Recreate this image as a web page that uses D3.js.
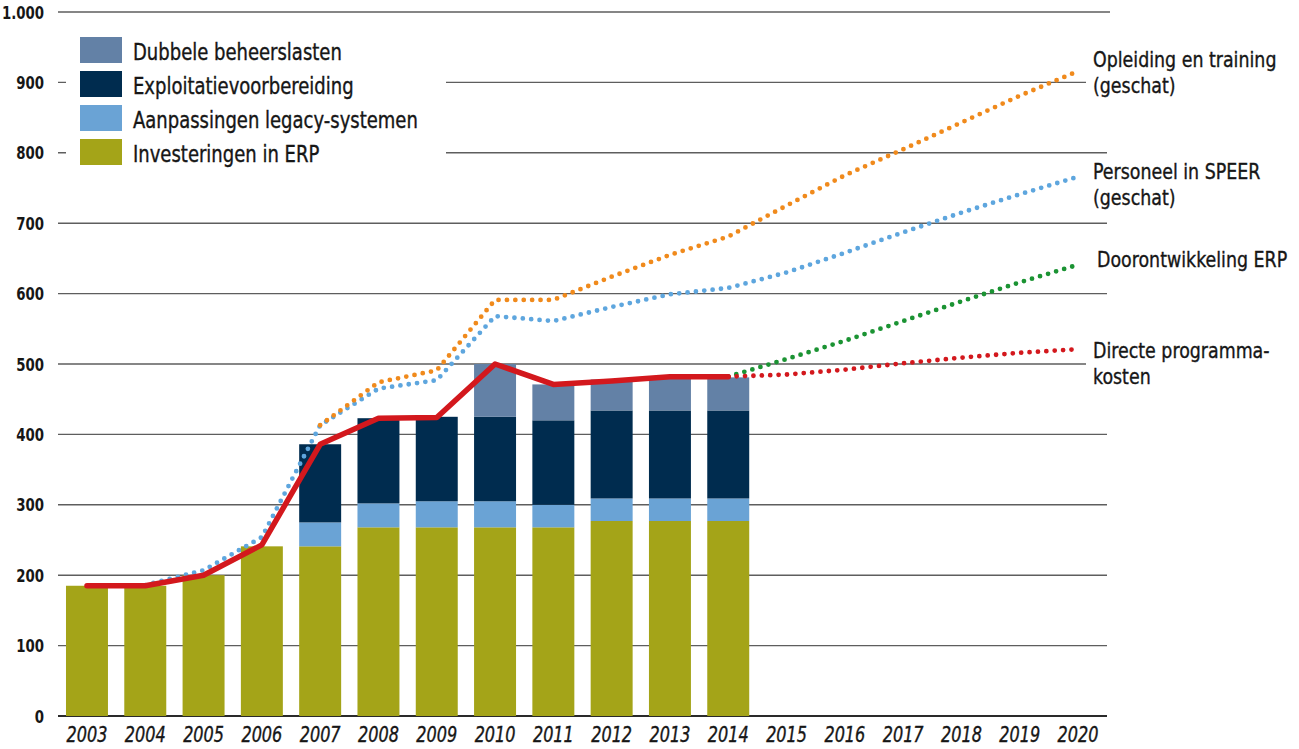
<!DOCTYPE html>
<html>
<head>
<meta charset="utf-8">
<script src="https://cdn.jsdelivr.net/npm/d3@7"></script>
<style>
  html, body { margin: 0; padding: 0; background: #fff; }
  svg { display: block; }
  text { font-family: "Liberation Sans Narrow", "Arial Narrow", "DejaVu Sans Condensed", "Roboto Condensed", sans-serif; fill: #161616; }
  text.heavy { stroke: #161616; stroke-width: 0.35px; }
</style>
</head>
<body>
<svg id="chart" width="1299" height="749"></svg>
<script>
// ---------------- DATA ----------------
const years = ["2003","2004","2005","2006","2007","2008","2009","2010","2011","2012","2013","2014","2015","2016","2017","2018","2019","2020"];
const barYears = ["2003","2004","2005","2006","2007","2008","2009","2010","2011","2012","2013","2014"];

const investeringenERP   = [185, 185, 200, 241, 241, 268, 268, 268, 268, 277, 277, 277];
const aanpassingenLegacy = [0, 0, 0, 0, 34, 34, 37, 37, 32, 32, 32, 32];
const exploitatie        = [0, 0, 0, 0, 111, 121, 120, 120, 120, 125, 125, 125];
const dubbeleBeheer      = [0, 0, 0, 0, 0, 0, 0, 75, 51, 44, 47, 47];

const directeYears   = ["2003","2004","2005","2006","2007","2008","2009","2010","2011","2012","2013","2014"];
const directeKosten  = [185, 185, 200, 243, 386, 423, 424, 500, 471, 476, 482, 482];
const directeProgYears = ["2014","2015","2016","2017","2018","2019","2020"];
const directeProg      = [482, 485, 492, 501, 509, 516, 521];
const doorontwYears  = ["2014","2015","2016","2017","2018","2019","2020"];
const doorontw       = [482, 507, 533, 561, 589, 616, 641];
const personeelYears = ["2004","2005","2006","2007","2008","2009","2010","2011","2012","2013","2014","2015","2016","2017","2018","2019","2020"];
const personeel      = [186, 207, 254, 413, 465, 477, 568, 561, 581, 599, 608, 630, 658, 687, 715, 741, 766];
const opleidingYears = ["2007","2008","2009","2010","2011","2012","2013","2014","2015","2016","2017","2018","2019","2020"];
const opleiding      = [413, 474, 491, 591, 591, 624, 655, 681, 725, 768, 805, 843, 881, 916];

const yTicks      = [0, 100, 200, 300, 400, 500, 600, 700, 800, 900, 1000];
const yTickLabels = ["0","100","200","300","400","500","600","700","800","900","1.000"];

const legendLabels = ["Dubbele beheerslasten","Exploitatievoorbereiding","Aanpassingen legacy-systemen","Investeringen in ERP"];
const lineLabels = [
  ["Opleiding en training", "(geschat)"],
  ["Personeel in SPEER", "(geschat)"],
  ["Doorontwikkeling ERP"],
  ["Directe programma-", "kosten"]
];

// ---------------- STYLE ----------------
const colors = {
  erp: "#a4a418", legacy: "#6aa3d5", exploit: "#002c4f", dubbel: "#6381a6",
  red: "#d3181d", orange: "#f08a1c", blue: "#5ea6de", green: "#1b9333"
};

const svg = d3.select("#chart");

const x = d3.scaleBand().domain(years).range([58, 1107]).paddingInner(0.28).paddingOuter(0.137);
const y = d3.scaleLinear().domain([0, 1000]).range([716, 12]);
const cx = d => x(d) + x.bandwidth() / 2;

// text helper: horizontally condensed text placed at (px, py)
function ctext(parent, px, py, sx, size, anchor) {
  return parent.append("text")
    .attr("transform", `translate(${px},${py}) scale(${sx},1)`)
    .attr("text-anchor", anchor || "start")
    .style("font-size", size + "px");
}

// gridlines
const gridEnd = v => (v === 1000 ? 1110 : (v === 900 || v === 500) ? 1086 : 1107);
svg.append("g").selectAll("line").data(yTicks).join("line")
  .attr("x1", 58).attr("x2", d => gridEnd(d))
  .attr("y1", d => y(d)).attr("y2", d => y(d))
  .attr("stroke", d => d === 0 ? "#2a2a2a" : "#5e5e5e")
  .attr("stroke-width", d => d === 0 ? 2 : 1.4);

// y tick labels
const yl = svg.append("g");
yTicks.forEach((v, i) => {
  ctext(yl, 44, y(v) + 6.6, 0.8, 18.5, "end").style("font-weight", "bold").text(yTickLabels[i]);
});

// x labels
const xl = svg.append("g");
years.forEach(yr => {
  ctext(xl, cx(yr), 742, 0.87, 20.5, "middle").attr("class", "heavy").style("font-style", "italic").text(yr);
});

// stacked bars
const barRows = barYears.map((yr, i) => ({
  year: yr, erp: investeringenERP[i], legacy: aanpassingenLegacy[i], exploit: exploitatie[i], dubbel: dubbeleBeheer[i]
}));
const keys = ["erp", "legacy", "exploit", "dubbel"];
const stack = d3.stack().keys(keys)(barRows);
svg.append("g").selectAll("g").data(stack).join("g")
  .attr("fill", s => colors[s.key])
  .selectAll("rect").data(s => s.filter(d => d[1] > d[0])).join("rect")
  .attr("x", d => x(d.data.year)).attr("width", x.bandwidth())
  .attr("y", d => y(d[1])).attr("height", d => y(d[0]) - y(d[1]));

// legend (white background masks gridlines)
const lg = svg.append("g");
lg.append("rect").attr("x", 66).attr("y", 24).attr("width", 380).attr("height", 152).attr("fill", "#fff");
const legendKeys = ["dubbel", "exploit", "legacy", "erp"];
legendKeys.forEach((k, i) => {
  lg.append("rect").attr("x", 80).attr("y", 37 + i * 34).attr("width", 42).attr("height", 26).attr("fill", colors[k]);
  ctext(lg, 133, 60 + i * 34, 0.89, 22.5).attr("class", "heavy").text(legendLabels[i]);
});

// lines
const line = d3.line().x(d => cx(d[0])).y(d => y(d[1]));
const zip = (a, b) => a.map((v, i) => [v, b[i]]);
function dotted(ys, vs, color) {
  svg.append("path").datum(zip(ys, vs)).attr("d", line)
    .attr("fill", "none").attr("stroke", color).attr("stroke-width", 4.8)
    .attr("stroke-linecap", "round").attr("stroke-dasharray", "0 8.4");
}
dotted(personeelYears, personeel, colors.blue);
dotted(opleidingYears, opleiding, colors.orange);
dotted(doorontwYears, doorontw, colors.green);
dotted(directeProgYears, directeProg, colors.red);
svg.append("path").datum(zip(directeYears, directeKosten)).attr("d", line)
  .attr("fill", "none").attr("stroke", colors.red).attr("stroke-width", 5.5)
  .attr("stroke-linejoin", "round").attr("stroke-linecap", "round");

// right-hand labels
const lineEnds = [opleiding[opleiding.length - 1], personeel[personeel.length - 1], doorontw[doorontw.length - 1], directeProg[directeProg.length - 1]];
const labelDy = [-4, 2, 2, 9];
const labelDx = [1093, 1093, 1097, 1093];
const rl = svg.append("g");
lineLabels.forEach((lines, i) => {
  lines.forEach((s, j) => {
    ctext(rl, labelDx[i], y(lineEnds[i]) + labelDy[i] + j * 26, 0.88, 22).attr("class", "heavy").text(s);
  });
});
</script>
</body>
</html>
